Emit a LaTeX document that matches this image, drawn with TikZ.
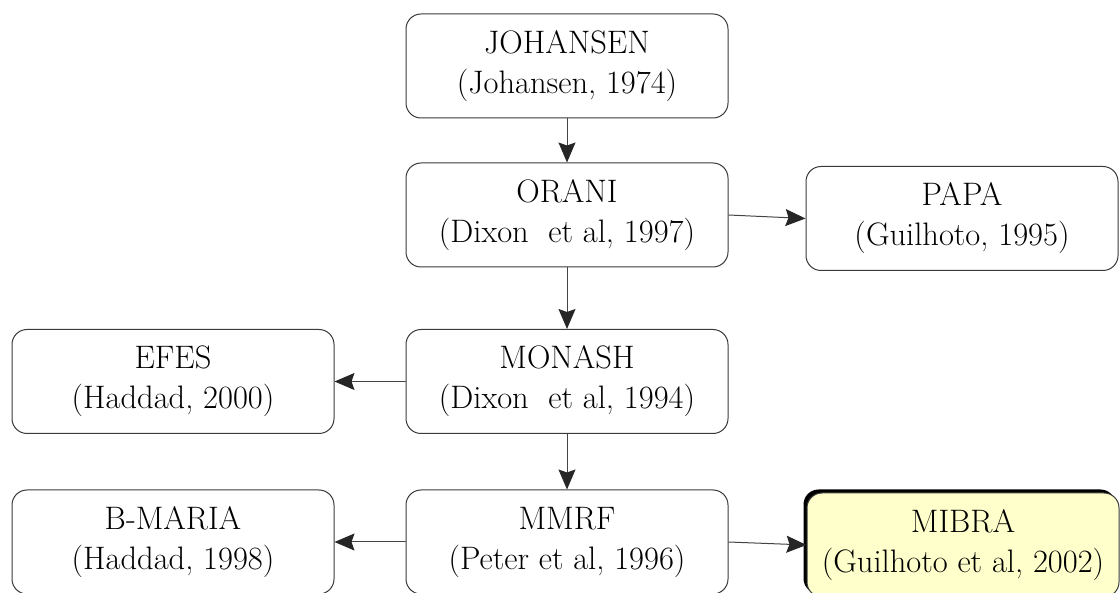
\documentclass[tikz,border=0pt]{standalone}
\usetikzlibrary{arrows.meta,shadows}
\definecolor{boxline}{HTML}{3A3A3A}
\definecolor{arrowline}{HTML}{444444}
\definecolor{mibrafill}{HTML}{FFFFCC}
\begin{document}
\begin{tikzpicture}[x=1pt,y=-1pt,
  box/.style={draw=boxline, line width=1pt, rounded corners=15pt,
    minimum width=322pt, minimum height=104pt, align=center, inner sep=0pt,
    font=\fontsize{32.5}{40}\selectfont, fill=white},
  hibox/.style={box, fill=mibrafill, minimum width=312pt,
    drop shadow={shadow xshift=-3.5pt, shadow yshift=3.5pt, fill=black, opacity=1}},
  conn/.style={draw=arrowline, line width=1pt,
    -{Stealth[length=20pt,width=17pt,inset=3pt,color=black!85]}}]
\useasboundingbox (0,0) rectangle (1120,593);
\node[box] (joh) at (567,66) {JOHANSEN\\(Johansen, 1974)};
\node[box] (orani) at (567,215) {ORANI\\(Dixon~ et al, 1997)};
\node[box, minimum width=312pt] (papa) at (962,218.5) {PAPA\\(Guilhoto, 1995)};
\node[box] (monash) at (567,381.5) {MONASH\\(Dixon~ et al, 1994)};
\node[box] (efes) at (173,381.5) {EFES\\(Haddad, 2000)};
\node[box] (mmrf) at (567,542) {MMRF\\(Peter et al, 1996)};
\node[box] (bmaria) at (173,542) {B-MARIA\\(Haddad, 1998)};
\node[hibox] (mibra) at (963,545) {MIBRA\\(Guilhoto et al, 2002)};
\draw[conn] (joh) -- (orani);
\draw[conn] (orani) -- (monash);
\draw[conn] (monash) -- (mmrf);
\draw[conn] (orani.east) -- (papa.west);
\draw[conn] (monash) -- (efes);
\draw[conn] (mmrf) -- (bmaria);
\draw[conn] (mmrf.east) -- (mibra.west);
\end{tikzpicture}
\end{document}
